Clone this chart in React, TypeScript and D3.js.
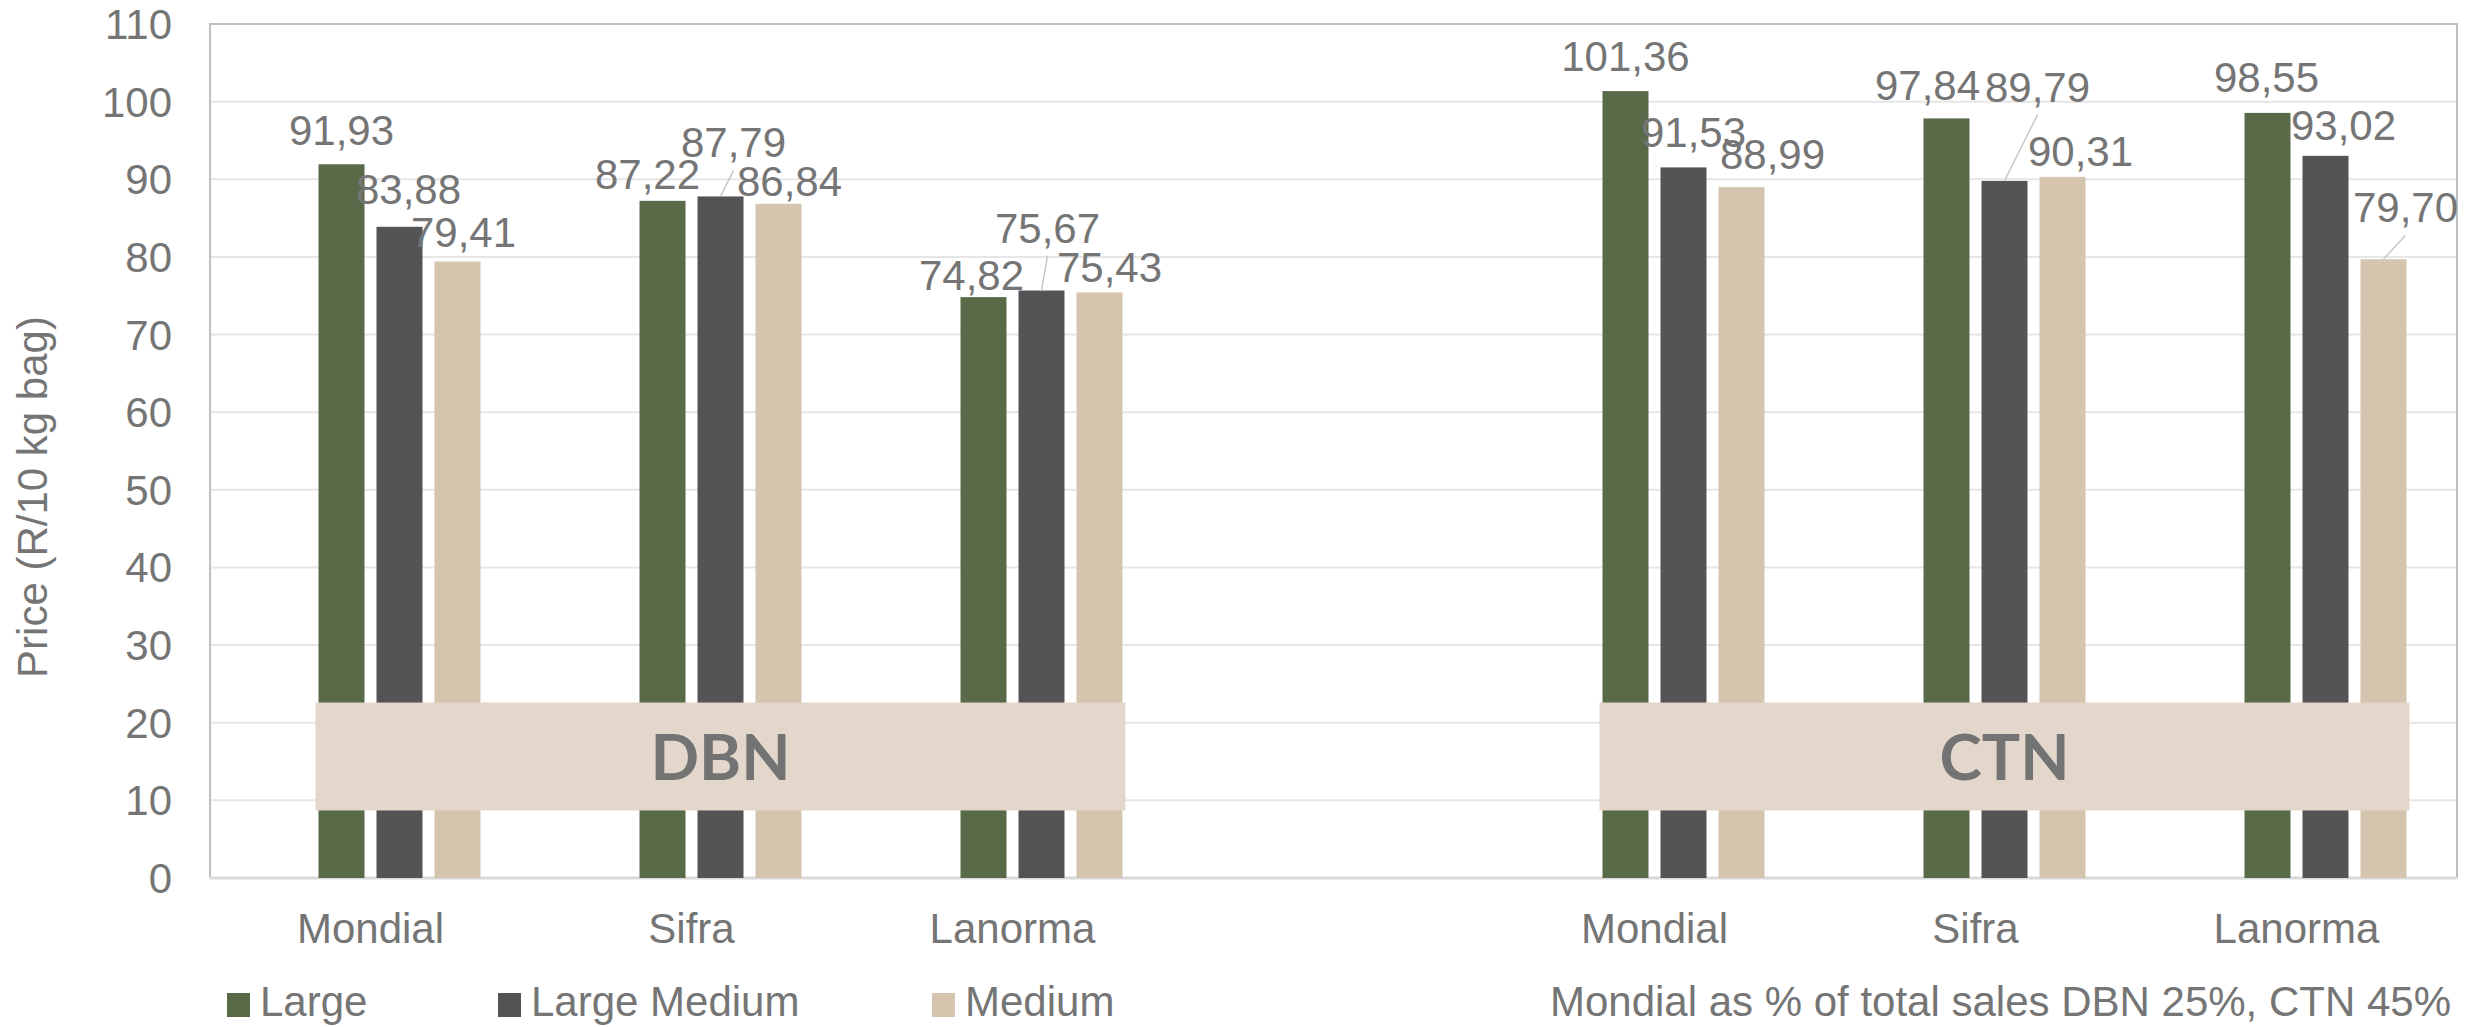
import * as d3 from "d3"

// categories (index 3 is the empty gap between the two markets)
const categories = ["Mondial", "Sifra", "Lanorma", "", "Mondial", "Sifra", "Lanorma"]
const seriesNames = ["Large", "Large Medium", "Medium"]

const large = [91.93, 87.22, 74.82, null, 101.36, 97.84, 98.55]
const largeMedium = [83.88, 87.79, 75.67, null, 91.53, 89.79, 93.02]
const medium = [79.41, 86.84, 75.43, null, 88.99, 90.31, 79.7]

const markets = [
  { name: "DBN", center: 1 },
  { name: "CTN", center: 5 },
]
const marketBand = [8.7, 22.6]

const yLabel = "Price (R/10 kg bag)"
const note = "Mondial as % of total sales DBN 25%, CTN 45%"

const colors = ["#596a48", "#545456", "#d5c4ae"]

// hand placed label offsets (dx, dy from bar top), leader = draw a connector
const labelPos = [
  [[0, -19], [-15, -12], [-12, -7], null, [0, -20], [-19, -18], [-1, -21]],
  [[9, -23], [13, -39, 1], [6, -48, 1], null, [10, -20], [33, -79, 1], [18, -16]],
  [[6, -14], [11, -8], [10, -10], null, [31, -18], [18, -11], [22, -37, 1]],
]

const W = 2468
const H = 1027
const m = { left: 210, right: 2457, top: 24, bottom: 878 }
const font = "'Liberation Sans', Arial, sans-serif"
const textColor = "#757575"

export default function App() {
  const series = [large, largeMedium, medium]

  const x0 = d3.scaleBand<number>().domain(d3.range(categories.length)).range([m.left, m.right])
  const x1 = d3
    .scaleBand<string>()
    .domain(["gap", ...seriesNames])
    .range([0, x0.bandwidth()])
    .paddingInner(0.207)
    .paddingOuter(0.871)
  const y = d3.scaleLinear().domain([0, 110]).range([m.bottom, m.top])

  const fmt = (v: number) => v.toFixed(2).replace(".", ",")

  return (
    <svg width={W} height={H} style={{ position: "absolute", left: 0, top: 0 }} fontFamily={font}>
      <rect width={W} height={H} fill="#fff" />
      {/* gridlines */}
      {y.ticks(11).map((t) => (
        <g key={t}>
          <line x1={m.left} x2={m.right} y1={y(t)} y2={y(t)} stroke="#e6e6e6" strokeWidth={2} />
          <text x={172} y={y(t) + 15} textAnchor="end" fontSize={42} fill={textColor}>
            {t}
          </text>
        </g>
      ))}
      {/* plot border */}
      <path
        d={`M${m.left},${m.bottom} V${m.top} H${m.right} V${m.bottom}`}
        fill="none"
        stroke="#bfbfbf"
        strokeWidth={2}
      />
      <line x1={m.left} x2={m.right} y1={m.bottom} y2={m.bottom} stroke="#d9d9d9" strokeWidth={3} />

      {/* bars */}
      {series.map((vals, si) =>
        vals.map((v, ci) =>
          v == null ? null : (
            <rect
              key={`${si}-${ci}`}
              x={x0(ci)! + x1(seriesNames[si])!}
              y={y(v)}
              width={x1.bandwidth()}
              height={y(0) - y(v)}
              fill={colors[si]}
            />
          )
        )
      )}

      {/* market boxes */}
      {markets.map((mk) => {
        const cx = x0(mk.center)! + x1(seriesNames[1])! + x1.bandwidth() / 2
        const y0 = y(marketBand[1])
        const y1 = y(marketBand[0])
        return (
          <g key={mk.name}>
            <rect x={cx - 405} y={y0} width={810} height={y1 - y0} fill="#e2d7ca" />
            <text
              x={cx}
              y={(y0 + y1) / 2 + 24}
              textAnchor="middle"
              fontFamily="Lato, sans-serif"
              fontWeight="bold"
              fontSize={64}
              fill="#737373"
            >
              {mk.name}
            </text>
          </g>
        )
      })}

      {/* data labels */}
      {series.map((vals, si) =>
        vals.map((v, ci) => {
          const p = labelPos[si][ci]
          if (v == null || !p) return null
          const bx = x0(ci)! + x1(seriesNames[si])! + x1.bandwidth() / 2
          const by = y(v)
          const lx = bx + p[0]
          const ly = by + p[1]
          return (
            <g key={`l${si}-${ci}`}>
              {p[2] ? <line x1={lx} y1={ly + 13} x2={bx} y2={by} stroke="#c8c8c8" strokeWidth={1.5} /> : null}
              <text x={lx} y={ly} textAnchor="middle" fontSize={42} fill={textColor}>
                {fmt(v)}
              </text>
            </g>
          )
        })
      )}

      {/* category labels */}
      {categories.map((c, i) => (
        <text key={i} x={x0(i)! + x0.bandwidth() / 2} y={943} textAnchor="middle" fontSize={42} fill={textColor}>
          {c}
        </text>
      ))}

      {/* y axis title */}
      <text
        transform={`translate(47,${497}) rotate(-90)`}
        textAnchor="middle"
        fontSize={42}
        fill={textColor}
      >
        {yLabel}
      </text>

      {/* legend */}
      {seriesNames.map((s, i) => {
        const lx = [227, 498, 932][i]
        return (
          <g key={s}>
            <rect x={lx} y={993} width={23} height={24} fill={colors[i]} />
            <text x={lx + 33} y={1016} fontSize={42} fill={textColor}>
              {s}
            </text>
          </g>
        )
      })}
      <text x={2451} y={1016} textAnchor="end" fontSize={42} fill={textColor}>
        {note}
      </text>
    </svg>
  )
}
